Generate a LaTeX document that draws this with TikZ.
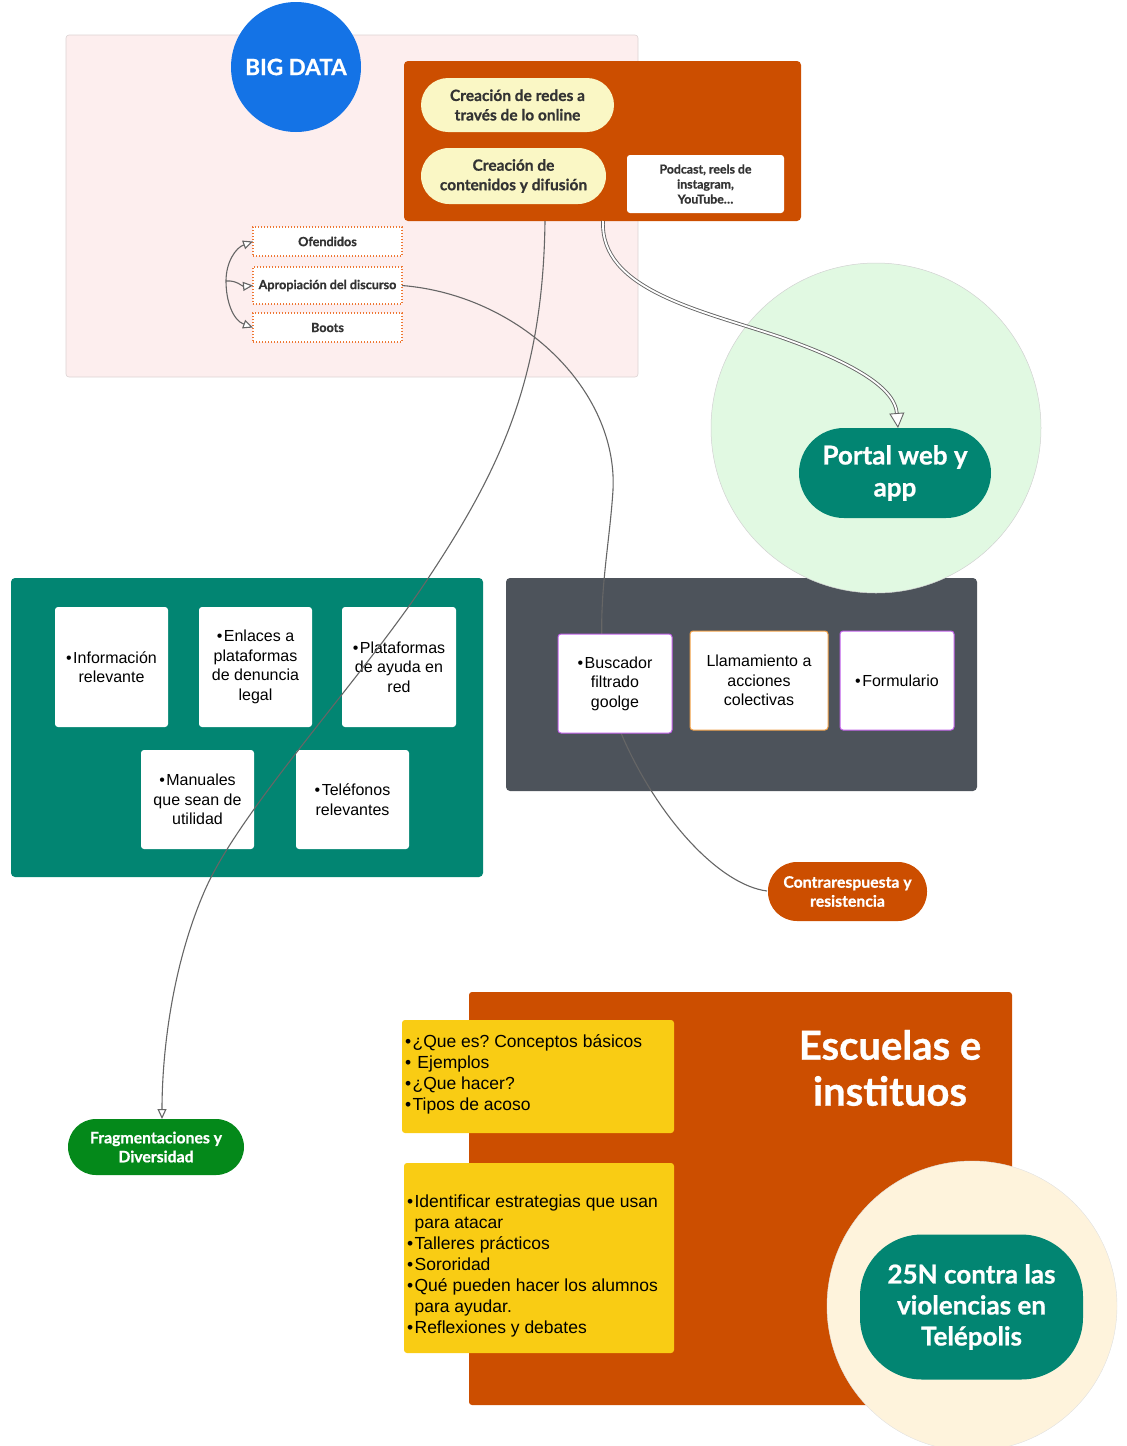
\documentclass[tikz,border=0pt]{standalone}
\usepackage{fontspec}
\setmainfont{Lato}[BoldFeatures={FakeBold=0.8}]
\newfontfamily\arialf{Liberation Sans}
\usetikzlibrary{arrows.meta}
\frenchspacing
\definecolor{pinkbg}{HTML}{FDEEEE}
\definecolor{pinkline}{HTML}{DCD2D2}
\definecolor{bigblue}{HTML}{1473E6}
\definecolor{burnt}{HTML}{CC4E00}
\definecolor{pillyellow}{HTML}{FAF7C5}
\definecolor{darktext}{HTML}{333333}
\definecolor{teal}{HTML}{028572}
\definecolor{slate}{HTML}{4D535B}
\definecolor{lightgreen}{HTML}{E1F9E2}
\definecolor{fraggreen}{HTML}{04891A}
\definecolor{gold}{HTML}{F9CC14}
\definecolor{cream}{HTML}{FEF3DC}
\definecolor{purpleedge}{HTML}{C060E8}
\definecolor{orangeedge}{HTML}{F0A048}
\definecolor{dotorange}{HTML}{EE7733}
\definecolor{linegray}{HTML}{666666}
\newcommand{\bul}{•\hspace{1.5pt}}
\begin{document}
\begin{tikzpicture}[x=1pt,y=-1pt,
  every node/.style={inner sep=0pt, outer sep=0pt},
  box/.style={rectangle},
  pilly/.style={box, fill=pillyellow, text=darktext, align=center,
    font=\bfseries\fontsize{15.5}{19.5}\selectfont},
  wbox/.style={box, fill=white, rounded corners=3pt, align=center, text=black,
    font=\arialf\fontsize{16}{19.5}\selectfont},
  dotbox/.style={box, fill=white, draw=dotorange, line width=1.3pt,
    dash pattern=on 1.4pt off 1.6pt, text=darktext,
    minimum width=149pt, font=\bfseries\fontsize{12.6}{14}\selectfont},
  ybox/.style={box, fill=gold, rounded corners=3pt},
  ytext/.style={align=left, text=black, font=\arialf\fontsize{17.5}{21}\selectfont},
  bigtext/.style={text=white, align=center, font=\bfseries\fontsize{26}{31}\selectfont},
  conn/.style={draw=linegray, line width=1.1pt},
  arr/.style={conn, -{Triangle[fill=white, length=10pt, width=9pt]}}
]
\useasboundingbox (0,0) rectangle (1127,1446);

% ---------- top-left BIG DATA area ----------
\node[box, fill=pinkbg, draw=pinkline, line width=0.6pt, rounded corners=3pt,
  minimum width=572pt, minimum height=342pt] (pinkarea) at (352,206) {};
\node[circle, fill=bigblue, minimum size=130pt, text=white,
  font=\bfseries\fontsize{22.5}{28}\selectfont] (bigdata) at (296,67) {BIG DATA};

\node[box, fill=burnt, rounded corners=4pt, minimum width=397pt, minimum height=160pt]
  (orangetop) at (602.5,141) {};
\node[pilly, rounded corners=27pt, minimum width=193pt, minimum height=54pt]
  (redes) at (517.5,105) {Creación de redes a\\través de lo online};
\node[pilly, rounded corners=28pt, minimum width=185pt, minimum height=56pt]
  (contenidos) at (513.5,176) {Creación de\\contenidos y difusión};
\node[box, fill=white, rounded corners=3pt, minimum width=157pt, minimum height=58pt,
  text=darktext, align=center, font=\bfseries\fontsize{12.3}{15}\selectfont]
  (podcast) at (705.5,184) {Podcast, reels de\\instagram,\\YouTube…};

\node[dotbox, minimum height=29pt] (ofendidos) at (327.5,241.5) {Ofendidos};
\node[dotbox, minimum height=37pt] (apropiacion) at (327.5,285.5) {Apropiación del discurso};
\node[dotbox, minimum height=29pt] (boots) at (327.5,327.5) {Boots};
\coordinate (src) at (226,281);

% ---------- containers ----------
\node[box, fill=teal, rounded corners=4pt, minimum width=472pt, minimum height=299pt]
  (greenbox) at (247,727.5) {};
\node[box, fill=slate, rounded corners=4pt, minimum width=471pt, minimum height=213pt]
  (darkbox) at (741.5,684.5) {};
\node[circle, fill=lightgreen, draw=black!18, line width=0.5pt, minimum size=330pt]
  (portalbg) at (876,428) {};
\node[box, fill=teal, rounded corners=45pt, minimum width=192pt, minimum height=90pt,
  bigtext, font=\bfseries\fontsize{26}{32}\selectfont]
  (portal) at (895,473) {Portal web y\\app};

% curve under the dark-box cards
\draw[conn] (apropiacion.east) .. controls (520,295) and (618,390) .. (613,490)
  .. controls (608,570) and (585,650) .. (624,740)
  .. controls (660,820) and (720,885) .. (767,891);

% ---------- cards ----------
\node[wbox, minimum width=113pt, minimum height=120pt] (info) at (111.5,667) {\bul Información\\relevante};
\node[wbox, minimum width=113pt, minimum height=120pt] (enlaces) at (255.5,667) {\bul Enlaces a\\plataformas\\de denuncia\\legal};
\node[wbox, minimum width=114pt, minimum height=120pt] (plataformas) at (399,667) {\bul Plataformas\\de ayuda en\\red};
\node[wbox, minimum width=113pt, minimum height=99pt] (manuales) at (197.5,799.5) {\bul Manuales\\que sean de\\utilidad};
\node[wbox, minimum width=113pt, minimum height=99pt] (telefonos) at (352.5,799.5) {\bul Teléfonos\\relevantes};

\node[wbox, draw=purpleedge, line width=1pt, minimum width=114pt, minimum height=99pt]
  (buscador) at (615,683.5) {\bul Buscador\\filtrado\\goolge};
\node[wbox, draw=orangeedge, line width=1pt, minimum width=138pt, minimum height=99pt]
  (llamamiento) at (759,680.5) {Llamamiento a\\acciones\\colectivas};
\node[wbox, draw=purpleedge, line width=1pt, minimum width=114pt, minimum height=99pt]
  (formulario) at (897,680.5) {\bul Formulario};

% ---------- pills ----------
\node[box, fill=burnt, rounded corners=29pt, minimum width=159pt, minimum height=59pt,
  text=white, align=center, font=\bfseries\fontsize{15.8}{19}\selectfont]
  (contra) at (847.5,891.5) {Contrarespuesta y\\resistencia};
\node[box, fill=fraggreen, rounded corners=28pt, minimum width=176pt, minimum height=56pt,
  text=white, align=center, font=\bfseries\fontsize{15.8}{19}\selectfont]
  (frag) at (156,1147) {Fragmentaciones y\\Diversidad};

% ---------- connectors ----------
\coordinate (o1) at (545,221);
\coordinate (o2) at (603,221);
\draw[arr] (o1) .. controls (543,380) and (500,470) .. (427,580)
  .. controls (360,681) and (240,810) .. (205,890)
  .. controls (170,970) and (162,1060) .. ([xshift=6pt]frag.north);
\draw[draw=linegray, line width=0.9pt, double=white, double distance=1.8pt,
  -{Triangle[fill=white, length=15pt, width=15pt]}]
  (o2) .. controls (600,290) and (700,310) .. (780,337)
  .. controls (860,365) and (895,390) .. ([xshift=3pt]portal.north);
\draw[arr] (src) to[out=90, in=200] (ofendidos.west);
\draw[arr] (src) to[out=5, in=185] (apropiacion.west);
\draw[arr] (src) to[out=-90, in=160] (boots.west);

% ---------- Escuelas ----------
\node[box, fill=burnt, rounded corners=3pt, minimum width=543pt, minimum height=413pt]
  (escuelas) at (740.5,1198.5) {};
\node[text=white, align=center, font=\bfseries\fontsize{40}{46}\selectfont]
  (escuelastxt) at (890,1068) {Escuelas e\\instituos};
\node[ybox, minimum width=272pt, minimum height=113pt] (y1) at (538,1076.5) {};
\node[ytext, anchor=west] (y1t) at (405,1074) {\bul¿Que es? Conceptos básicos\\\bul\ Ejemplos\\\bul¿Que hacer?\\\bul Tipos de acoso};
\node[ybox, minimum width=270pt, minimum height=190pt] (y2) at (539,1258) {};
\node[ytext, anchor=west] (y2t) at (407,1265.5) {\bul Identificar estrategias que usan\\\phantom{\bul}para atacar\\\bul Talleres prácticos\\\bul Sororidad\\\bul Qué pueden hacer los alumnos\\\phantom{\bul}para ayudar.\\\bul Reflexiones y debates};

\node[circle, fill=cream, draw=black!12, line width=0.4pt, minimum size=290pt]
  (creambg) at (972,1306) {};
\node[box, fill=teal, rounded corners=62pt, minimum width=223pt, minimum height=145pt,
  bigtext, font=\bfseries\fontsize{26}{31}\selectfont]
  (n25) at (971.5,1307) {25N contra las\\violencias en\\Telépolis};
\end{tikzpicture}
\end{document}
